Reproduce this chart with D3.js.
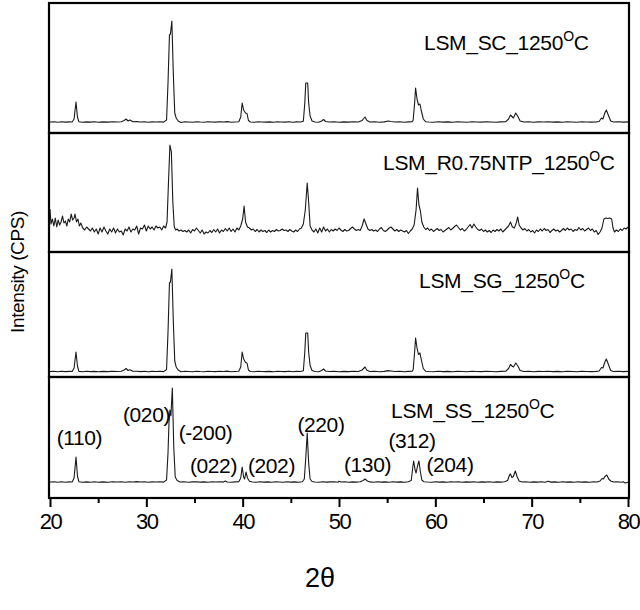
<!DOCTYPE html>
<html><head><meta charset="utf-8">
<script src="https://cdn.jsdelivr.net/npm/d3@7/dist/d3.min.js"></script>
<style>body{margin:0;background:#fff}text{font-family:"Liberation Sans",Arial,sans-serif;fill:#000}</style>
</head><body>
<svg id="chart" width="640" height="610"></svg>
<script>
// ---------------- DATA ----------------
const sampleNames = ["LSM_SC_1250", "LSM_R0.75NTP_1250", "LSM_SG_1250", "LSM_SS_1250"];
const xTicks = [20, 30, 40, 50, 60, 70, 80];
const xMinorTicks = [25, 35, 45, 55, 65, 75];

// 2θ (deg), intensity (CPS, arbitrary)
const seriesSC = [[20,110],[20.4,112],[20.8,108],[21.2,113],[21.6,109],[22.0,111],[22.3,110],[22.5,140],[22.7,310],[22.85,160],[23.0,112],[23.4,108],[23.8,111],[24.2,109],[24.6,112],[25.0,108],[25.5,111],[26.0,109],[26.5,112],[27.0,110],[27.4,113],[27.7,125],[27.9,140],[28.1,120],[28.3,130],[28.6,112],[29.0,114],[29.4,110],[29.8,112],[30.2,108],[30.6,111],[31.0,110],[31.4,112],[31.8,109],[32.1,130],[32.25,500],[32.4,980],[32.5,990],[32.65,1120],[32.8,600],[32.95,200],[33.1,150],[33.3,120],[33.6,105],[34.0,112],[34.4,110],[34.8,108],[35.2,113],[35.6,110],[36.0,108],[36.4,112],[36.8,110],[37.2,109],[37.6,112],[38.0,110],[38.4,114],[38.8,108],[39.2,110],[39.6,112],[39.8,160],[39.95,300],[40.1,230],[40.3,200],[40.45,195],[40.6,125],[40.8,110],[41.2,108],[41.6,112],[42.0,110],[42.4,109],[42.8,111],[43.2,108],[43.6,112],[44.0,110],[44.4,109],[44.8,112],[45.2,108],[45.6,111],[46.0,110],[46.3,118],[46.45,300],[46.55,500],[46.75,500],[46.85,300],[47.0,170],[47.2,120],[47.5,110],[47.9,108],[48.2,120],[48.4,135],[48.6,115],[49.0,110],[49.5,112],[50.0,108],[50.5,111],[51.0,109],[51.5,112],[52.0,110],[52.4,125],[52.7,160],[52.9,125],[53.2,110],[53.7,112],[54.2,108],[54.7,111],[55.1,120],[55.4,115],[55.8,110],[56.3,112],[56.8,108],[57.2,111],[57.6,112],[57.7,130],[57.85,300],[57.95,450],[58.1,340],[58.25,280],[58.4,290],[58.55,220],[58.75,140],[59.0,112],[59.3,110],[59.8,108],[60.3,112],[60.8,109],[61.3,111],[61.8,108],[62.3,112],[62.8,110],[63.3,108],[63.8,112],[64.3,110],[64.8,109],[65.3,112],[65.8,110],[66.3,108],[66.8,111],[67.3,112],[67.6,140],[67.8,180],[67.95,165],[68.1,150],[68.35,200],[68.6,160],[68.8,120],[69.2,110],[69.7,112],[70.2,108],[70.7,111],[71.2,110],[71.7,113],[72.2,109],[72.7,111],[73.2,108],[73.7,112],[74.2,110],[74.7,108],[75.2,112],[75.7,110],[76.2,109],[76.7,111],[77.0,115],[77.25,150],[77.4,140],[77.6,200],[77.75,230],[77.95,180],[78.2,120],[78.5,110],[79.0,112],[79.5,109],[80,111]];

const seriesNTP = [[20.0,430],[20.1,280],[20.25,330],[20.4,260],[20.55,340],[20.7,250],[20.85,320],[21.0,270],[21.15,300],[21.3,360],[21.45,290],[21.6,310],[21.75,260],[21.9,330],[22.05,300],[22.2,380],[22.35,320],[22.5,340],[22.6,380],[22.75,300],[22.9,330],[23.05,260],[23.2,290],[23.4,240],[23.6,220],[23.8,250],[24.0,230],[24.2,210],[24.4,240],[24.6,200],[24.8,230],[25.0,180],[25.2,240],[25.4,200],[25.6,250],[25.8,210],[26.0,180],[26.2,230],[26.4,200],[26.6,240],[26.8,190],[27.0,230],[27.2,200],[27.4,210],[27.6,170],[27.8,230],[28.0,210],[28.2,250],[28.4,200],[28.6,230],[28.8,220],[29.0,260],[29.2,180],[29.4,240],[29.6,230],[29.8,270],[30.0,210],[30.2,260],[30.4,230],[30.6,250],[30.8,220],[31.0,260],[31.2,240],[31.4,250],[31.6,220],[31.8,260],[32.0,240],[32.15,300],[32.3,700],[32.45,1070],[32.6,1000],[32.75,500],[32.9,250],[33.05,220],[33.2,230],[33.4,210],[33.6,220],[33.8,205],[34.0,215],[34.2,200],[34.4,220],[34.6,190],[34.8,225],[35.0,210],[35.2,240],[35.4,215],[35.6,190],[35.8,220],[36.0,180],[36.2,200],[36.4,190],[36.6,215],[36.8,195],[37.0,225],[37.2,200],[37.4,230],[37.6,190],[37.8,220],[38.0,205],[38.2,235],[38.4,210],[38.6,240],[38.8,205],[39.0,230],[39.2,200],[39.4,240],[39.6,220],[39.8,260],[40.0,330],[40.15,460],[40.3,300],[40.5,250],[40.7,240],[40.9,220],[41.1,230],[41.3,205],[41.5,225],[41.7,200],[41.9,220],[42.1,205],[42.3,215],[42.5,195],[42.7,220],[42.9,200],[43.1,215],[43.3,205],[43.5,225],[43.7,210],[43.9,215],[44.1,230],[44.3,215],[44.5,220],[44.7,205],[44.9,225],[45.1,210],[45.3,200],[45.5,220],[45.7,205],[45.9,230],[46.1,240],[46.3,280],[46.5,420],[46.7,690],[46.85,500],[47.0,260],[47.2,220],[47.4,200],[47.6,230],[47.8,190],[48.0,240],[48.2,200],[48.4,250],[48.6,210],[48.8,230],[49.0,200],[49.2,225],[49.4,210],[49.6,230],[49.8,215],[50.0,240],[50.2,220],[50.4,205],[50.6,225],[50.8,210],[51.0,215],[51.2,235],[51.4,250],[51.6,230],[51.8,215],[52.0,225],[52.2,215],[52.4,260],[52.6,330],[52.8,280],[53.0,230],[53.2,215],[53.4,225],[53.6,210],[53.8,220],[54.0,205],[54.2,230],[54.4,245],[54.6,215],[54.8,205],[55.0,220],[55.2,240],[55.4,250],[55.6,230],[55.8,210],[56.0,225],[56.2,205],[56.4,220],[56.6,210],[56.8,200],[57.0,215],[57.2,185],[57.4,210],[57.6,230],[57.8,270],[58.0,420],[58.15,640],[58.3,470],[58.45,410],[58.6,300],[58.8,250],[59.0,225],[59.2,240],[59.4,215],[59.6,230],[59.8,205],[60.0,220],[60.2,235],[60.4,215],[60.6,225],[60.8,200],[61.0,215],[61.2,230],[61.4,245],[61.6,220],[61.8,235],[62.0,255],[62.2,270],[62.4,245],[62.6,220],[62.8,235],[63.0,210],[63.2,225],[63.4,250],[63.6,275],[63.8,240],[64.0,280],[64.2,250],[64.4,225],[64.6,215],[64.8,230],[65.0,205],[65.2,220],[65.4,200],[65.6,215],[65.8,195],[66.0,220],[66.2,205],[66.4,225],[66.6,210],[66.8,230],[67.0,200],[67.2,220],[67.4,240],[67.6,260],[67.8,300],[68.0,250],[68.2,240],[68.4,290],[68.55,350],[68.7,270],[68.9,240],[69.1,220],[69.3,235],[69.5,210],[69.7,225],[69.9,200],[70.1,215],[70.3,190],[70.5,220],[70.7,205],[70.9,230],[71.1,210],[71.3,235],[71.5,215],[71.7,225],[71.9,195],[72.1,215],[72.3,230],[72.5,210],[72.7,220],[72.9,200],[73.1,215],[73.3,235],[73.5,215],[73.7,240],[73.9,220],[74.1,230],[74.3,205],[74.5,225],[74.7,215],[74.9,245],[75.1,220],[75.3,235],[75.5,210],[75.7,225],[75.9,240],[76.1,215],[76.3,230],[76.5,200],[76.7,215],[76.9,175],[77.1,200],[77.3,240],[77.5,330],[77.7,340],[77.9,335],[78.1,340],[78.3,330],[78.45,240],[78.6,200],[78.8,220],[79.0,205],[79.2,230],[79.4,215],[79.6,240],[79.8,230],[80.0,250]];

const seriesSG = [[20,55],[20.4,58],[20.8,52],[21.2,57],[21.6,54],[22.0,56],[22.3,55],[22.5,90],[22.7,250],[22.85,110],[23.0,56],[23.4,52],[23.8,57],[24.2,54],[24.6,56],[25.0,52],[25.5,56],[26.0,54],[26.5,57],[27.0,55],[27.4,58],[27.7,70],[27.9,85],[28.1,65],[28.3,72],[28.6,57],[29.0,58],[29.4,54],[29.8,57],[30.2,53],[30.6,56],[31.0,55],[31.4,57],[31.8,54],[32.1,75],[32.25,450],[32.4,940],[32.5,950],[32.65,1080],[32.8,560],[32.95,160],[33.1,100],[33.3,70],[33.6,52],[34.0,57],[34.4,55],[34.8,53],[35.2,58],[35.6,55],[36.0,53],[36.4,57],[36.8,55],[37.2,54],[37.6,57],[38.0,55],[38.4,59],[38.8,53],[39.2,55],[39.6,57],[39.8,100],[39.95,250],[40.1,180],[40.3,145],[40.45,140],[40.6,70],[40.8,55],[41.2,53],[41.6,57],[42.0,55],[42.4,54],[42.8,56],[43.2,53],[43.6,57],[44.0,55],[44.4,54],[44.8,57],[45.2,53],[45.6,56],[46.0,55],[46.3,62],[46.45,250],[46.55,440],[46.75,440],[46.85,250],[47.0,115],[47.2,65],[47.5,55],[47.9,53],[48.2,65],[48.4,80],[48.6,60],[49.0,55],[49.5,57],[50.0,53],[50.5,56],[51.0,54],[51.5,57],[52.0,55],[52.4,70],[52.7,100],[52.9,68],[53.2,55],[53.7,57],[54.2,53],[54.7,56],[55.1,64],[55.4,60],[55.8,55],[56.3,57],[56.8,53],[57.2,56],[57.6,57],[57.7,75],[57.85,250],[57.95,390],[58.1,290],[58.25,225],[58.4,240],[58.55,170],[58.75,85],[59.0,57],[59.3,55],[59.8,53],[60.3,57],[60.8,54],[61.3,56],[61.8,53],[62.3,57],[62.8,55],[63.3,53],[63.8,57],[64.3,55],[64.8,54],[65.3,57],[65.8,55],[66.3,53],[66.8,56],[67.3,57],[67.6,85],[67.8,125],[67.95,110],[68.1,100],[68.35,140],[68.6,105],[68.8,65],[69.2,55],[69.7,57],[70.2,53],[70.7,56],[71.2,55],[71.7,58],[72.2,54],[72.7,56],[73.2,53],[73.7,57],[74.2,55],[74.7,53],[75.2,57],[75.7,55],[76.2,54],[76.7,56],[77.0,60],[77.25,95],[77.4,90],[77.6,150],[77.75,180],[77.95,130],[78.2,65],[78.5,55],[79.0,57],[79.5,54],[80,56]];

const seriesSS = [[20,160],[20.4,163],[20.8,157],[21.2,162],[21.6,158],[22.0,161],[22.3,160],[22.5,200],[22.7,410],[22.85,220],[23.0,162],[23.4,157],[23.8,161],[24.2,158],[24.6,162],[25.0,157],[25.5,161],[26.0,158],[26.5,162],[27.0,160],[27.4,163],[27.8,158],[28.2,162],[28.6,160],[29.0,164],[29.4,160],[29.8,162],[30.2,158],[30.6,161],[31.0,160],[31.4,162],[31.8,159],[32.1,180],[32.25,450],[32.35,750],[32.45,880],[32.55,820],[32.7,1100],[32.85,500],[33.0,210],[33.2,175],[33.5,160],[33.9,162],[34.4,158],[34.8,161],[35.2,163],[35.6,159],[36.0,161],[36.4,158],[36.8,162],[37.2,160],[37.6,163],[38.0,159],[38.2,170],[38.4,160],[38.8,158],[39.2,161],[39.6,163],[39.8,200],[39.95,310],[40.1,210],[40.2,190],[40.35,260],[40.5,200],[40.7,168],[41.0,160],[41.4,158],[41.8,162],[42.2,159],[42.6,161],[43.0,158],[43.4,162],[43.8,160],[44.2,158],[44.6,162],[45.0,159],[45.4,161],[45.8,158],[46.2,163],[46.4,190],[46.55,400],[46.7,650],[46.85,350],[47.0,190],[47.2,165],[47.5,160],[47.9,158],[48.3,162],[48.7,159],[49.1,161],[49.5,163],[49.9,158],[50.0,168],[50.2,160],[50.6,162],[51.0,158],[51.4,161],[51.8,159],[52.2,163],[52.5,175],[52.7,190],[52.95,170],[53.2,161],[53.6,158],[54.0,162],[54.4,159],[54.8,161],[55.2,158],[55.6,162],[56.0,159],[56.4,161],[56.8,158],[57.2,162],[57.5,175],[57.65,300],[57.75,370],[57.9,280],[58.0,250],[58.15,320],[58.3,370],[58.45,260],[58.6,180],[58.8,163],[59.2,160],[59.6,158],[60.0,162],[60.4,159],[60.8,161],[61.2,158],[61.6,162],[62.0,160],[62.4,163],[62.8,158],[63.2,161],[63.6,159],[64.0,162],[64.4,158],[64.8,161],[65.2,159],[65.6,162],[66.0,158],[66.4,161],[66.8,159],[67.2,162],[67.5,175],[67.7,230],[67.8,240],[67.95,205],[68.1,215],[68.3,270],[68.5,210],[68.7,170],[69.0,160],[69.4,162],[69.8,158],[70.2,161],[70.6,159],[71.0,162],[71.4,158],[71.7,168],[72.0,159],[72.4,161],[72.8,158],[73.2,162],[73.6,159],[74.0,161],[74.4,158],[74.8,162],[75.2,159],[75.6,161],[76.0,158],[76.4,162],[76.8,160],[77.1,170],[77.3,195],[77.45,190],[77.6,215],[77.8,230],[78.0,190],[78.2,170],[78.5,160],[78.9,163],[79.3,158],[79.5,162],[79.7,150],[80,158]];

const peakLabels = ["(110)", "(020)", "(-200)", "(022)", "(202)", "(220)", "(130)", "(312)", "(204)"];
// label anchor in data units of the bottom panel: [2θ, intensity]
const peakLabelAnchors = [[23.06,530],[30.02,760],[36.14,580],[36.97,250],[42.99,250],[48.13,660],[52.96,260],[57.58,500],[61.52,260]];

// ---------------- LAYOUT ----------------
const svg = d3.select("#chart");
const left = 50, right = 628;
const panelEdges = [3, 133, 252, 377, 498];
const panelMax = [1300, 1190, 1250, 1210];
const titlePos = [[424, 50], [383, 170], [419, 288], [391, 418]];
const allSeries = [seriesSC, seriesNTP, seriesSG, seriesSS];

const x = d3.scaleLinear().domain([20, 80]).range([left, right]);

allSeries.forEach((data, i) => {
  const y = d3.scaleLinear().domain([0, panelMax[i]]).range([panelEdges[i + 1], panelEdges[i]]);
  const line = d3.line().x(d => x(d[0])).y(d => y(d[1]));
  svg.append("path").datum(data).attr("d", line)
    .attr("fill", "none").attr("stroke", "#1a1a1a").attr("stroke-width", 1.1).attr("stroke-linejoin", "round");

  const t = svg.append("text").attr("x", titlePos[i][0]).attr("y", titlePos[i][1])
    .attr("font-size", 21).attr("letter-spacing", -0.3);
  t.append("tspan").text(sampleNames[i]);
  t.append("tspan").attr("font-size", 14).attr("dy", -9).text("O");
  t.append("tspan").attr("dy", 9).text("C");

  if (i === 3) {
    svg.selectAll(".pl").data(peakLabels).enter().append("text")
      .attr("x", (d, k) => x(peakLabelAnchors[k][0]))
      .attr("y", (d, k) => y(peakLabelAnchors[k][1]))
      .attr("text-anchor", "middle").attr("font-size", 21).attr("letter-spacing", -0.4)
      .text(d => d);
  }
});

// frames
for (let i = 0; i < 4; i++) {
  svg.append("rect").attr("x", left - 1).attr("y", panelEdges[i])
    .attr("width", right - left + 2).attr("height", panelEdges[i + 1] - panelEdges[i])
    .attr("fill", "none").attr("stroke", "#000").attr("stroke-width", 2.2);
}

// bottom axis
const axisG = svg.append("g").attr("transform", `translate(0,${panelEdges[4]})`);
axisG.call(d3.axisBottom(x).tickValues(xTicks).tickSize(9).tickPadding(6).tickFormat(d3.format("d")));
axisG.select(".domain").remove();
axisG.selectAll(".tick line").attr("stroke", "#000").attr("stroke-width", 2);
axisG.selectAll(".tick text").attr("font-family", "Liberation Sans, Arial, sans-serif")
  .attr("font-size", 22).attr("letter-spacing", -1.5).attr("fill", "#000");
const minor = svg.append("g").attr("transform", `translate(0,${panelEdges[4]})`);
minor.call(d3.axisBottom(x).tickValues(xMinorTicks).tickSize(5).tickFormat(""));
minor.select(".domain").remove();
minor.selectAll(".tick line").attr("stroke", "#000").attr("stroke-width", 2);

// axis titles
svg.append("text").attr("x", 320).attr("y", 587).attr("text-anchor", "middle")
  .attr("font-size", 27).text("2θ");
svg.append("text").attr("transform", "translate(24,272) rotate(-90)").attr("text-anchor", "middle")
  .attr("font-size", 19).attr("letter-spacing", -0.4).text("Intensity (CPS)");
</script>
</body></html>
